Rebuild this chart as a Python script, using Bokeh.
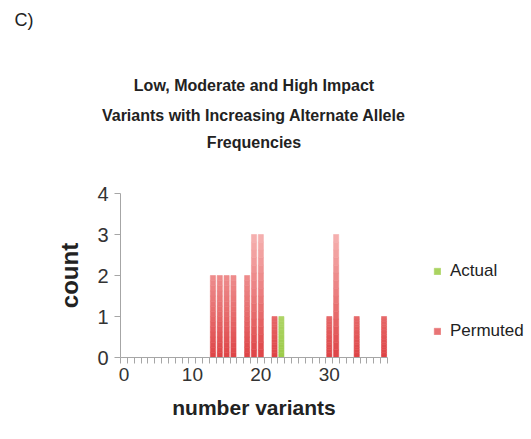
import numpy as np
from bokeh.plotting import figure
from bokeh.models import (ColumnDataSource, FixedTicker, Legend, LegendItem, Range1d, Title)
from bokeh.embed import file_html
from bokeh.resources import INLINE

# ---- data ----
permuted_x = [13, 14, 15, 16, 18, 19, 20, 22, 30, 31, 34, 38]
permuted_count = [2, 2, 2, 2, 2, 3, 3, 1, 1, 3, 1, 1]
actual_x = [23]
actual_count = [1]
x_tick_labels = [0, 10, 20, 30]
y_ticks = [0, 1, 2, 3, 4]
title_lines = ["Low, Moderate and High Impact",
               "Variants with Increasing Alternate Allele",
               "Frequencies"]
panel_label = "C)"

L, R, T, B = 120, 144, 193, 82
FW, FH = 267, 164
x0, x1 = -0.5, 38.5
y0, y1 = 0, 4

p = figure(frame_width=FW, frame_height=FH, output_backend="svg", toolbar_location=None,
           x_range=Range1d(x0, x1), y_range=Range1d(y0, y1), title=None,
           min_border_left=L, min_border_right=R, min_border_top=T, min_border_bottom=B)
p.outline_line_color = None
p.grid.visible = False
p.background_fill_color = "white"
p.border_fill_color = "white"

def hex2rgb(h):
    h = h.lstrip("#")
    return np.array([int(h[i:i + 2], 16) for i in (0, 2, 4)], dtype=float)

def rgb2hex(c):
    return "#%02x%02x%02x" % tuple(int(round(v)) for v in c)

N_SLICES = 16

def gradient_bars(xs, counts, bottom, top, width=0.75, n=N_SLICES):
    lefts, rights, bots, tops, cols = [], [], [], [], []
    cb, ct = hex2rgb(bottom), hex2rgb(top)
    ymax = 3.0
    for x, c in zip(xs, counts):
        edges = np.linspace(0, c, n + 1)
        for i in range(n):
            lefts.append(x - width / 2)
            rights.append(x + width / 2)
            bots.append(edges[i])
            tops.append(edges[i + 1])
            t = ((edges[i] + edges[i + 1]) / 2) / ymax
            cols.append(rgb2hex(cb + (ct - cb) * min(t, 1)))
    return ColumnDataSource(dict(left=lefts, right=rights, bottom=bots, top=tops, color=cols))

r_per = p.quad(left="left", right="right", bottom="bottom", top="top", fill_color="color",
               line_color="color", line_width=0.6,
               source=gradient_bars(permuted_x, permuted_count, "#de4446", "#f6b2b1"))
r_act = p.quad(left="left", right="right", bottom="bottom", top="top", fill_color="color",
               line_color="color", line_width=0.6,
               source=gradient_bars(actual_x, actual_count, "#9ccb48", "#d3e8a6"))

legend = Legend(items=[LegendItem(label="Actual", renderers=[r_act], index=N_SLICES - 4),
                       LegendItem(label="Permuted", renderers=[r_per], index=N_SLICES - 6)],
                location=(46, 16), glyph_width=8, glyph_height=8, spacing=40,
                padding=0, margin=0, label_standoff=9,
                label_text_font="Liberation Sans",
                label_text_font_size="17px", label_text_color="#222222",
                border_line_alpha=0, background_fill_alpha=0)
p.add_layout(legend, "right")

axis_color = "#a6a6a6"
tick_font = "Liberation Sans"
xa = p.xaxis[0]
xa.ticker = FixedTicker(ticks=x_tick_labels, minor_ticks=list(np.arange(-0.5, 39, 1.0)))
xa.axis_line_color = axis_color
xa.major_tick_line_color = None
xa.minor_tick_line_color = axis_color
xa.minor_tick_out = 6
xa.minor_tick_in = 0
xa.major_label_text_font = tick_font
xa.major_label_text_font_size = "19px"
xa.major_label_text_color = "#333333"
xa.major_label_standoff = 4
xa.axis_label = "number variants"
xa.axis_label_text_font = "Liberation Sans"
xa.axis_label_text_font_style = "bold"
xa.axis_label_text_font_size = "21px"
xa.axis_label_text_color = "#222222"
xa.axis_label_standoff = 12

ya = p.yaxis[0]
ya.ticker = FixedTicker(ticks=y_ticks, minor_ticks=[])
ya.axis_line_color = axis_color
ya.major_tick_line_color = axis_color
ya.major_tick_out = 6
ya.major_tick_in = 0
ya.minor_tick_line_color = None
ya.major_label_text_font = tick_font
ya.major_label_text_font_size = "20px"
ya.major_label_text_color = "#333333"
ya.major_label_standoff = 6
ya.axis_label = "count"
ya.axis_label_text_font = "Liberation Sans"
ya.axis_label_text_font_style = "bold"
ya.axis_label_text_font_size = "24px"
ya.axis_label_text_color = "#222222"
ya.axis_label_standoff = 11

def add_title(text, size, bold=True, align="center", offset=0):
    p.add_layout(Title(text=text, align=align, text_font="Liberation Sans",
                       text_font_style="bold" if bold else "normal",
                       text_font_size=size, text_line_height=1.2,
                       text_color="#222222", standoff=0, offset=offset), "above")

# stacked from the frame outwards
gaps = [5.0, 7.5]
add_title("\u00a0", "36.5px")                   # gap above frame
for i, txt in enumerate(reversed(title_lines)):
    if i > 0:
        add_title("\u00a0", "%.1fpx" % gaps[i - 1])   # line gap
    add_title(txt, "16px")
add_title("\u00a0", "38.7px")                   # gap above title
add_title(panel_label, "18px", bold=False, align="left", offset=-106)

open("out.html", "w").write(file_html(p, INLINE))
